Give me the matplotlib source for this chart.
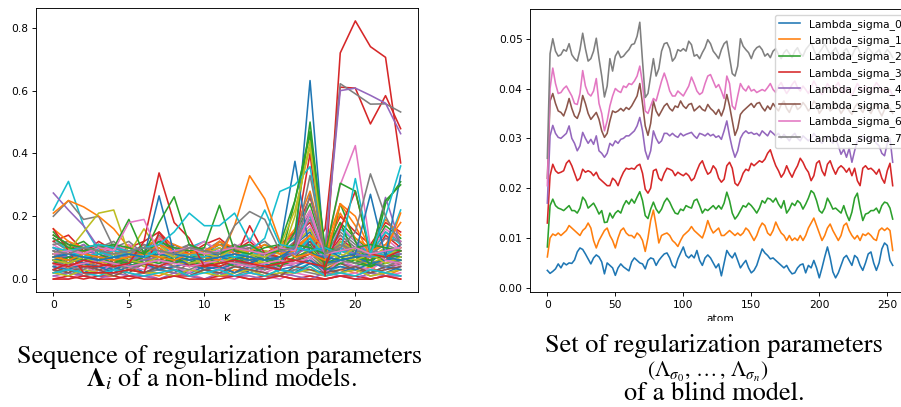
import matplotlib
matplotlib.use("Agg")
import matplotlib.pyplot as plt
from matplotlib.patches import Rectangle

plt.rcParams['mathtext.fontset'] = 'stix'

# ---------------- left panel data ----------------
K = list(range(24))

bg_lines = [
    [0.09,0.06,0.10,0.07,0.05,0.09,0.06,0.11,0.07,0.05,0.08,0.10,0.06,0.09,0.07,0.05,0.10,0.14,0.06,0.11,0.08,0.05,0.10,0.07],
    [0.02,0.04,0.01,0.03,0.02,0.04,0.02,0.01,0.03,0.02,0.04,0.01,0.03,0.02,0.01,0.03,0.02,0.04,0.01,0.03,0.02,0.04,0.01,0.03],
    [0.06,0.03,0.07,0.05,0.08,0.04,0.06,0.09,0.05,0.07,0.04,0.08,0.05,0.07,0.04,0.06,0.08,0.11,0.04,0.07,0.05,0.08,0.06,0.09],
    [0.14,0.11,0.08,0.12,0.09,0.07,0.10,0.13,0.08,0.11,0.07,0.12,0.09,0.10,0.07,0.11,0.14,0.18,0.07,0.13,0.09,0.06,0.14,0.10],
    [0.04,0.06,0.03,0.05,0.03,0.06,0.04,0.03,0.06,0.04,0.05,0.03,0.06,0.04,0.03,0.05,0.04,0.07,0.03,0.05,0.04,0.06,0.03,0.05],
    [0.08,0.05,0.09,0.06,0.08,0.05,0.07,0.10,0.06,0.08,0.05,0.09,0.07,0.05,0.08,0.06,0.09,0.13,0.05,0.10,0.07,0.09,0.06,0.08],
    [0.01,0.00,0.02,0.01,0.00,0.01,0.02,0.00,0.01,0.02,0.00,0.01,0.00,0.02,0.01,0.00,0.02,0.01,0.00,0.01,0.02,0.00,0.01,0.02],
    [0.12,0.09,0.11,0.08,0.10,0.12,0.08,0.14,0.09,0.11,0.08,0.12,0.09,0.11,0.08,0.10,0.13,0.21,0.08,0.15,0.11,0.08,0.15,0.12],
    [0.05,0.07,0.04,0.06,0.05,0.07,0.04,0.06,0.05,0.08,0.04,0.06,0.07,0.04,0.06,0.05,0.07,0.09,0.04,0.07,0.06,0.04,0.07,0.05],
    [0.03,0.01,0.04,0.02,0.03,0.05,0.02,0.03,0.04,0.02,0.03,0.01,0.04,0.03,0.05,0.02,0.03,0.05,0.02,0.04,0.03,0.02,0.04,0.03],
    [0.10,0.07,0.09,0.11,0.06,0.08,0.10,0.07,0.11,0.08,0.06,0.09,0.11,0.07,0.09,0.06,0.11,0.15,0.06,0.12,0.08,0.10,0.07,0.11],
    [0.05,0.03,0.06,0.04,0.06,0.03,0.05,0.07,0.04,0.05,0.06,0.03,0.05,0.06,0.04,0.05,0.06,0.09,0.03,0.06,0.07,0.04,0.06,0.05],
    [0.15,0.10,0.12,0.08,0.11,0.07,0.10,0.12,0.09,0.10,0.08,0.11,0.10,0.08,0.11,0.09,0.14,0.24,0.08,0.18,0.13,0.09,0.17,0.13],
    [0.00,0.01,0.00,0.01,0.01,0.00,0.01,0.00,0.01,0.01,0.00,0.01,0.01,0.00,0.01,0.01,0.00,0.01,0.00,0.01,0.01,0.00,0.01,0.00],
    [0.07,0.09,0.05,0.08,0.06,0.09,0.05,0.08,0.06,0.09,0.05,0.07,0.09,0.05,0.08,0.06,0.09,0.12,0.05,0.09,0.07,0.06,0.09,0.07],
    [0.04,0.02,0.05,0.03,0.04,0.02,0.05,0.03,0.02,0.05,0.03,0.04,0.02,0.05,0.03,0.04,0.05,0.06,0.02,0.05,0.03,0.02,0.04,0.05],
    [0.11,0.08,0.06,0.10,0.08,0.11,0.07,0.12,0.08,0.06,0.10,0.08,0.11,0.07,0.09,0.08,0.12,0.17,0.07,0.14,0.10,0.07,0.13,0.09],
    [0.02,0.03,0.01,0.02,0.04,0.01,0.02,0.03,0.02,0.01,0.03,0.02,0.01,0.03,0.02,0.01,0.03,0.02,0.01,0.02,0.03,0.01,0.02,0.01],
    [0.07,0.05,0.08,0.06,0.04,0.07,0.05,0.08,0.06,0.04,0.07,0.06,0.04,0.07,0.05,0.07,0.06,0.10,0.04,0.08,0.06,0.05,0.07,0.06],
    [0.13,0.09,0.07,0.11,0.08,0.06,0.09,0.12,0.07,0.10,0.12,0.08,0.10,0.09,0.07,0.10,0.13,0.20,0.07,0.16,0.12,0.08,0.15,0.11],
    [0.03,0.05,0.02,0.04,0.03,0.05,0.02,0.04,0.03,0.02,0.04,0.03,0.05,0.02,0.04,0.03,0.02,0.05,0.03,0.02,0.04,0.03,0.02,0.04],
    [0.08,0.06,0.09,0.05,0.07,0.09,0.06,0.10,0.07,0.09,0.06,0.05,0.08,0.06,0.09,0.07,0.10,0.14,0.06,0.11,0.08,0.06,0.10,0.08],
    [0.06,0.04,0.05,0.07,0.04,0.06,0.05,0.04,0.07,0.05,0.04,0.06,0.04,0.05,0.07,0.04,0.06,0.07,0.03,0.05,0.06,0.04,0.05,0.06],
    [0.12,0.14,0.09,0.11,0.08,0.10,0.12,0.15,0.10,0.08,0.11,0.13,0.09,0.12,0.08,0.11,0.15,0.26,0.10,0.20,0.15,0.11,0.18,0.15],
    [0.01,0.02,0.01,0.00,0.02,0.01,0.01,0.00,0.02,0.01,0.00,0.02,0.01,0.01,0.00,0.02,0.01,0.00,0.02,0.01,0.00,0.02,0.01,0.01],
    [0.09,0.06,0.08,0.10,0.05,0.07,0.09,0.06,0.08,0.10,0.07,0.09,0.06,0.05,0.08,0.10,0.07,0.12,0.05,0.10,0.07,0.09,0.06,0.10],
    [0.05,0.03,0.04,0.02,0.05,0.04,0.03,0.05,0.04,0.02,0.05,0.03,0.04,0.05,0.02,0.04,0.05,0.07,0.02,0.06,0.04,0.03,0.06,0.04],
    [0.11,0.12,0.08,0.10,0.12,0.07,0.09,0.13,0.10,0.07,0.09,0.12,0.08,0.10,0.12,0.08,0.12,0.19,0.09,0.14,0.10,0.08,0.13,0.12],
    [0.02,0.01,0.03,0.02,0.01,0.03,0.02,0.02,0.01,0.03,0.02,0.01,0.02,0.03,0.01,0.02,0.02,0.03,0.01,0.02,0.03,0.01,0.02,0.03],
    [0.07,0.08,0.06,0.09,0.07,0.06,0.08,0.09,0.06,0.08,0.09,0.06,0.08,0.07,0.09,0.06,0.09,0.13,0.06,0.09,0.10,0.07,0.09,0.08],
    [0.04,0.03,0.05,0.04,0.02,0.04,0.05,0.03,0.04,0.05,0.03,0.04,0.02,0.04,0.05,0.03,0.04,0.06,0.03,0.04,0.03,0.05,0.04,0.03],
    [0.16,0.12,0.10,0.09,0.11,0.08,0.10,0.13,0.11,0.09,0.08,0.12,0.10,0.09,0.08,0.10,0.16,0.28,0.09,0.21,0.13,0.10,0.19,0.14],
    [0.06,0.05,0.07,0.06,0.05,0.04,0.06,0.05,0.07,0.06,0.04,0.06,0.05,0.07,0.06,0.04,0.07,0.09,0.05,0.07,0.05,0.04,0.07,0.06],
    [0.00,0.00,0.01,0.00,0.00,0.01,0.00,0.00,0.01,0.00,0.00,0.00,0.01,0.00,0.00,0.01,0.00,0.00,0.00,0.01,0.00,0.00,0.01,0.00],
    [0.10,0.08,0.11,0.07,0.09,0.08,0.11,0.09,0.07,0.10,0.09,0.07,0.09,0.11,0.07,0.09,0.11,0.16,0.07,0.12,0.09,0.11,0.10,0.08],
    [0.03,0.02,0.04,0.03,0.01,0.03,0.02,0.04,0.03,0.01,0.03,0.02,0.04,0.03,0.02,0.01,0.04,0.03,0.02,0.03,0.04,0.02,0.03,0.04],
    [0.13,0.10,0.08,0.11,0.09,0.11,0.08,0.13,0.10,0.09,0.12,0.09,0.10,0.13,0.08,0.10,0.14,0.22,0.08,0.17,0.12,0.09,0.16,0.12],
    [0.06,0.04,0.03,0.06,0.05,0.03,0.05,0.06,0.04,0.03,0.05,0.04,0.06,0.04,0.03,0.05,0.06,0.08,0.04,0.06,0.05,0.06,0.04,0.06],
    [0.08,0.10,0.07,0.06,0.09,0.07,0.08,0.11,0.07,0.06,0.08,0.10,0.07,0.06,0.09,0.08,0.11,0.16,0.06,0.12,0.09,0.07,0.10,0.09],
    [0.02,0.03,0.02,0.01,0.03,0.02,0.01,0.02,0.03,0.01,0.02,0.03,0.01,0.02,0.01,0.03,0.02,0.04,0.01,0.02,0.01,0.03,0.02,0.01],
]

peak_lines = [
    [0.03,0.05,0.04,0.04,0.05,0.06,0.05,0.04,0.06,0.05,0.04,0.05,0.06,0.05,0.04,0.03,0.12,0.40,0.01,0.72,0.822,0.74,0.706,0.37],
    [0.16,0.09,0.02,0.02,0.02,0.03,0.02,0.15,0.08,0.04,0.05,0.04,0.06,0.17,0.08,0.07,0.06,0.08,0.16,0.611,0.608,0.494,0.584,0.479],
    [0.06,0.05,0.07,0.06,0.05,0.06,0.07,0.06,0.05,0.06,0.07,0.06,0.05,0.06,0.07,0.05,0.06,0.09,0.10,0.622,0.59,0.557,0.558,0.532],
    [0.08,0.07,0.06,0.07,0.08,0.07,0.06,0.07,0.08,0.07,0.06,0.07,0.08,0.07,0.06,0.07,0.08,0.10,0.09,0.60,0.608,0.585,0.56,0.463],
    [0.06,0.07,0.05,0.06,0.07,0.06,0.05,0.07,0.06,0.05,0.06,0.07,0.06,0.05,0.07,0.06,0.10,0.632,0.05,0.06,0.07,0.05,0.06,0.07],
    [0.07,0.06,0.08,0.07,0.05,0.07,0.08,0.07,0.06,0.08,0.07,0.05,0.07,0.08,0.06,0.07,0.15,0.50,0.08,0.18,0.07,0.06,0.08,0.07],
    [0.05,0.07,0.06,0.08,0.06,0.05,0.07,0.08,0.05,0.07,0.08,0.05,0.06,0.08,0.07,0.05,0.25,0.46,0.03,0.24,0.12,0.04,0.24,0.31],
    [0.06,0.05,0.07,0.05,0.08,0.06,0.05,0.07,0.08,0.05,0.06,0.05,0.07,0.08,0.05,0.06,0.20,0.44,0.08,0.10,0.06,0.08,0.05,0.07],
    [0.05,0.04,0.05,0.06,0.05,0.04,0.05,0.06,0.05,0.04,0.05,0.06,0.05,0.04,0.05,0.06,0.05,0.07,0.08,0.30,0.425,0.10,0.06,0.05],
    [0.07,0.08,0.07,0.06,0.07,0.08,0.07,0.08,0.07,0.06,0.07,0.08,0.07,0.06,0.07,0.10,0.375,0.08,0.07,0.06,0.07,0.08,0.07,0.06],
    [0.08,0.09,0.07,0.08,0.09,0.08,0.07,0.09,0.08,0.07,0.09,0.08,0.07,0.09,0.13,0.279,0.30,0.358,0.07,0.10,0.08,0.07,0.09,0.22],
    [0.07,0.06,0.08,0.07,0.06,0.07,0.08,0.07,0.06,0.08,0.07,0.06,0.17,0.329,0.255,0.12,0.07,0.08,0.06,0.24,0.17,0.07,0.08,0.21],
    [0.22,0.311,0.17,0.09,0.07,0.08,0.07,0.09,0.07,0.08,0.07,0.09,0.07,0.08,0.07,0.09,0.08,0.13,0.07,0.09,0.08,0.07,0.08,0.09],
    [0.274,0.22,0.17,0.10,0.11,0.08,0.10,0.09,0.07,0.10,0.08,0.07,0.10,0.08,0.07,0.09,0.08,0.21,0.07,0.10,0.08,0.07,0.26,0.11],
    [0.20,0.25,0.19,0.20,0.10,0.08,0.11,0.09,0.08,0.11,0.09,0.08,0.11,0.09,0.08,0.10,0.09,0.27,0.08,0.11,0.09,0.08,0.11,0.09],
    [0.21,0.25,0.23,0.20,0.16,0.10,0.08,0.11,0.09,0.08,0.09,0.11,0.08,0.09,0.11,0.08,0.09,0.14,0.10,0.24,0.20,0.09,0.11,0.18],
    [0.08,0.09,0.15,0.21,0.22,0.08,0.16,0.09,0.07,0.10,0.08,0.07,0.10,0.08,0.07,0.10,0.22,0.42,0.08,0.07,0.10,0.08,0.07,0.10],
    [0.05,0.04,0.06,0.05,0.04,0.05,0.12,0.338,0.18,0.13,0.04,0.05,0.06,0.05,0.04,0.05,0.06,0.05,0.04,0.16,0.28,0.08,0.07,0.09],
    [0.07,0.08,0.07,0.06,0.07,0.08,0.07,0.265,0.08,0.07,0.06,0.07,0.08,0.07,0.06,0.07,0.10,0.09,0.10,0.07,0.08,0.27,0.07,0.33],
    [0.13,0.10,0.09,0.10,0.11,0.10,0.08,0.18,0.262,0.11,0.09,0.08,0.10,0.11,0.08,0.09,0.11,0.10,0.08,0.305,0.28,0.08,0.25,0.30],
    [0.14,0.11,0.10,0.11,0.10,0.19,0.08,0.12,0.10,0.09,0.10,0.235,0.09,0.08,0.10,0.11,0.25,0.47,0.10,0.09,0.10,0.11,0.10,0.09],
    [0.10,0.09,0.10,0.11,0.10,0.09,0.10,0.11,0.15,0.21,0.17,0.17,0.21,0.12,0.22,0.11,0.10,0.09,0.10,0.08,0.32,0.08,0.20,0.36],
    [0.08,0.09,0.08,0.10,0.09,0.18,0.19,0.08,0.09,0.10,0.08,0.09,0.10,0.09,0.08,0.10,0.09,0.21,0.08,0.09,0.10,0.08,0.09,0.10],
    [0.09,0.08,0.10,0.09,0.08,0.09,0.10,0.09,0.08,0.10,0.09,0.08,0.17,0.215,0.19,0.09,0.10,0.33,0.08,0.10,0.15,0.335,0.20,0.11],
]
peak_colors = ['C3','C3','C7','C4','C0','C2','C2','C8','C6','C0','C9','C1',
               'C9','C4','C7','C1','C8','C3','C0','C2','C2','C9','C6','C7']

# ---------------- right panel data ----------------
atom = list(range(0, 256, 2))
sigma_labels = ['Lambda_sigma_0', 'Lambda_sigma_1', 'Lambda_sigma_2', 'Lambda_sigma_3',
                'Lambda_sigma_4', 'Lambda_sigma_5', 'Lambda_sigma_6', 'Lambda_sigma_7']

lambda_sigma_0 = [
    0.0035,0.0029,0.0033,0.0038,0.0048,0.0040,0.0050,0.0046,0.0050,0.0049,0.0056,0.0072,0.0080,0.0077,0.0068,0.0058,
    0.0048,0.0060,0.0066,0.0062,0.0052,0.0028,0.0050,0.0045,0.0040,0.0025,0.0040,0.0048,0.0042,0.0038,0.0034,0.0052,
    0.0060,0.0055,0.0050,0.0048,0.0038,0.0055,0.0060,0.0058,0.0045,0.0055,0.0062,0.0068,0.0070,0.0060,0.0045,0.0040,
    0.0058,0.0070,0.0082,0.0065,0.0060,0.0066,0.0060,0.0075,0.0055,0.0045,0.0060,0.0066,0.0060,0.0050,0.0040,0.0048,
    0.0024,0.0050,0.0075,0.0066,0.0060,0.0070,0.0055,0.0040,0.0048,0.0055,0.0040,0.0030,0.0035,0.0045,0.0062,0.0078,
    0.0070,0.0065,0.0058,0.0060,0.0055,0.0050,0.0045,0.0040,0.0045,0.0035,0.0028,0.0030,0.0040,0.0046,0.0048,0.0030,
    0.0045,0.0040,0.0055,0.0040,0.0020,0.0040,0.0062,0.0082,0.0060,0.0032,0.0020,0.0030,0.0045,0.0060,0.0065,0.0055,
    0.0045,0.0065,0.0060,0.0045,0.0035,0.0050,0.0068,0.0072,0.0050,0.0035,0.0050,0.0078,0.0090,0.0085,0.0055,0.0045]
lambda_sigma_1 = [
    0.0062,0.0100,0.0108,0.0105,0.0110,0.0105,0.0110,0.0115,0.0125,0.0120,0.0115,0.0110,0.0105,0.0115,0.0120,0.0130,
    0.0120,0.0095,0.0080,0.0095,0.0105,0.0115,0.0120,0.0105,0.0095,0.0080,0.0100,0.0115,0.0120,0.0110,0.0105,0.0105,
    0.0100,0.0110,0.0105,0.0095,0.0073,0.0100,0.0135,0.0156,0.0125,0.0090,0.0105,0.0108,0.0110,0.0105,0.0095,0.0090,
    0.0083,0.0095,0.0105,0.0110,0.0115,0.0123,0.0115,0.0110,0.0105,0.0100,0.0115,0.0135,0.0120,0.0110,0.0115,0.0120,
    0.0105,0.0105,0.0110,0.0115,0.0110,0.0105,0.0110,0.0105,0.0110,0.0120,0.0115,0.0105,0.0095,0.0105,0.0120,0.0130,
    0.0125,0.0110,0.0105,0.0115,0.0132,0.0120,0.0110,0.0105,0.0095,0.0105,0.0095,0.0100,0.0095,0.0105,0.0095,0.0105,
    0.0120,0.0130,0.0140,0.0125,0.0110,0.0095,0.0105,0.0120,0.0128,0.0115,0.0105,0.0095,0.0105,0.0125,0.0130,0.0115,
    0.0105,0.0098,0.0105,0.0095,0.0108,0.0105,0.0110,0.0105,0.0098,0.0095,0.0115,0.0120,0.0115,0.0120,0.0115,0.0075]
lambda_sigma_2 = [
    0.0082,0.0165,0.0178,0.0165,0.0160,0.0158,0.0155,0.0160,0.0165,0.0155,0.0155,0.0150,0.0160,0.0182,0.0175,0.0160,
    0.0165,0.0170,0.0160,0.0148,0.0155,0.0131,0.0132,0.0150,0.0140,0.0150,0.0155,0.0150,0.0165,0.0175,0.0168,0.0178,
    0.0170,0.0182,0.0193,0.0175,0.0145,0.0139,0.0158,0.0172,0.0158,0.0150,0.0158,0.0172,0.0180,0.0172,0.0160,0.0150,
    0.0148,0.0158,0.0155,0.0165,0.0162,0.0160,0.0175,0.0178,0.0165,0.0150,0.0158,0.0155,0.0160,0.0165,0.0158,0.0165,
    0.0158,0.0170,0.0192,0.0175,0.0150,0.0138,0.0145,0.0155,0.0165,0.0162,0.0170,0.0165,0.0158,0.0150,0.0160,0.0175,
    0.0170,0.0180,0.0178,0.0172,0.0180,0.0168,0.0160,0.0175,0.0150,0.0158,0.0170,0.0165,0.0175,0.0170,0.0158,0.0168,
    0.0180,0.0195,0.0190,0.0175,0.0155,0.0150,0.0160,0.0180,0.0170,0.0158,0.0160,0.0155,0.0150,0.0165,0.0148,0.0135,
    0.0152,0.0180,0.0190,0.0160,0.0135,0.0148,0.0150,0.0155,0.0155,0.0160,0.0150,0.0165,0.0172,0.0170,0.0160,0.0138]
lambda_sigma_3 = [
    0.0130,0.0225,0.0248,0.0235,0.0230,0.0232,0.0235,0.0250,0.0256,0.0245,0.0230,0.0215,0.0220,0.0238,0.0232,0.0235,
    0.0232,0.0225,0.0232,0.0220,0.0215,0.0210,0.0205,0.0205,0.0220,0.0215,0.0205,0.0220,0.0232,0.0240,0.0238,0.0240,
    0.0238,0.0245,0.0248,0.0230,0.0198,0.0190,0.0200,0.0235,0.0238,0.0220,0.0215,0.0230,0.0240,0.0238,0.0235,0.0225,
    0.0232,0.0228,0.0225,0.0230,0.0225,0.0215,0.0220,0.0235,0.0248,0.0255,0.0240,0.0228,0.0232,0.0245,0.0238,0.0220,
    0.0212,0.0218,0.0245,0.0252,0.0240,0.0210,0.0205,0.0215,0.0230,0.0238,0.0235,0.0250,0.0245,0.0250,0.0255,0.0252,
    0.0258,0.0270,0.0277,0.0260,0.0245,0.0235,0.0222,0.0230,0.0245,0.0232,0.0222,0.0235,0.0245,0.0260,0.0252,0.0240,
    0.0232,0.0215,0.0225,0.0250,0.0255,0.0235,0.0225,0.0248,0.0255,0.0240,0.0228,0.0240,0.0245,0.0240,0.0232,0.0240,
    0.0225,0.0240,0.0215,0.0205,0.0240,0.0245,0.0238,0.0240,0.0235,0.0228,0.0238,0.0220,0.0210,0.0235,0.0250,0.0205]
lambda_sigma_4 = [
    0.0170,0.0305,0.0326,0.0310,0.0302,0.0300,0.0305,0.0310,0.0325,0.0300,0.0290,0.0275,0.0285,0.0312,0.0300,0.0290,
    0.0298,0.0288,0.0305,0.0275,0.0270,0.0262,0.0270,0.0290,0.0285,0.0295,0.0290,0.0298,0.0300,0.0305,0.0305,0.0310,
    0.0315,0.0325,0.0342,0.0315,0.0275,0.0258,0.0275,0.0315,0.0300,0.0290,0.0295,0.0310,0.0310,0.0305,0.0310,0.0305,
    0.0302,0.0310,0.0305,0.0308,0.0310,0.0312,0.0305,0.0300,0.0310,0.0308,0.0305,0.0310,0.0305,0.0308,0.0302,0.0305,
    0.0298,0.0315,0.0335,0.0305,0.0280,0.0262,0.0275,0.0300,0.0310,0.0315,0.0310,0.0312,0.0308,0.0310,0.0305,0.0315,
    0.0310,0.0305,0.0315,0.0310,0.0305,0.0310,0.0300,0.0308,0.0302,0.0295,0.0305,0.0310,0.0300,0.0295,0.0305,0.0300,
    0.0295,0.0300,0.0310,0.0302,0.0295,0.0290,0.0300,0.0305,0.0298,0.0290,0.0300,0.0285,0.0268,0.0278,0.0262,0.0280,
    0.0252,0.0275,0.0295,0.0300,0.0305,0.0298,0.0302,0.0295,0.0300,0.0290,0.0285,0.0270,0.0265,0.0290,0.0300,0.0252]
lambda_sigma_5 = [
    0.0220,0.0375,0.0390,0.0370,0.0355,0.0352,0.0345,0.0360,0.0380,0.0360,0.0345,0.0340,0.0355,0.0386,0.0370,0.0350,
    0.0338,0.0345,0.0352,0.0338,0.0315,0.0302,0.0310,0.0335,0.0355,0.0352,0.0355,0.0360,0.0355,0.0362,0.0358,0.0365,
    0.0375,0.0385,0.0410,0.0370,0.0325,0.0306,0.0330,0.0375,0.0355,0.0345,0.0355,0.0365,0.0370,0.0360,0.0355,0.0365,
    0.0362,0.0375,0.0365,0.0360,0.0368,0.0370,0.0355,0.0360,0.0365,0.0358,0.0355,0.0368,0.0360,0.0355,0.0348,0.0358,
    0.0345,0.0360,0.0388,0.0365,0.0335,0.0306,0.0320,0.0348,0.0355,0.0360,0.0365,0.0370,0.0362,0.0370,0.0372,0.0362,
    0.0355,0.0365,0.0358,0.0370,0.0362,0.0355,0.0368,0.0375,0.0360,0.0352,0.0365,0.0370,0.0358,0.0362,0.0372,0.0365,
    0.0355,0.0362,0.0375,0.0368,0.0350,0.0358,0.0370,0.0365,0.0355,0.0360,0.0372,0.0362,0.0350,0.0358,0.0365,0.0355,
    0.0348,0.0362,0.0370,0.0360,0.0352,0.0365,0.0358,0.0350,0.0362,0.0368,0.0355,0.0345,0.0358,0.0365,0.0360,0.0350]
lambda_sigma_6 = [
    0.0205,0.0400,0.0441,0.0410,0.0390,0.0392,0.0400,0.0405,0.0395,0.0385,0.0370,0.0368,0.0390,0.0436,0.0405,0.0390,
    0.0385,0.0395,0.0420,0.0370,0.0350,0.0315,0.0335,0.0365,0.0385,0.0400,0.0395,0.0392,0.0405,0.0402,0.0410,0.0408,
    0.0415,0.0425,0.0445,0.0410,0.0355,0.0350,0.0365,0.0380,0.0375,0.0395,0.0415,0.0431,0.0415,0.0395,0.0385,0.0385,
    0.0395,0.0390,0.0385,0.0395,0.0405,0.0423,0.0410,0.0395,0.0388,0.0392,0.0410,0.0425,0.0428,0.0415,0.0402,0.0408,
    0.0395,0.0380,0.0425,0.0410,0.0365,0.0358,0.0385,0.0410,0.0400,0.0395,0.0405,0.0395,0.0398,0.0392,0.0395,0.0398,
    0.0395,0.0402,0.0410,0.0398,0.0392,0.0405,0.0412,0.0400,0.0390,0.0398,0.0408,0.0415,0.0402,0.0395,0.0405,0.0398,
    0.0390,0.0402,0.0415,0.0405,0.0395,0.0388,0.0398,0.0410,0.0402,0.0392,0.0405,0.0412,0.0398,0.0390,0.0402,0.0395,
    0.0385,0.0398,0.0410,0.0402,0.0395,0.0405,0.0398,0.0390,0.0402,0.0412,0.0405,0.0395,0.0400,0.0392,0.0398,0.0385]
lambda_sigma_7 = [
    0.0260,0.0470,0.0500,0.0475,0.0465,0.0468,0.0478,0.0475,0.0490,0.0468,0.0460,0.0455,0.0478,0.0511,0.0480,0.0455,
    0.0460,0.0475,0.0501,0.0460,0.0425,0.0383,0.0405,0.0460,0.0435,0.0465,0.0475,0.0462,0.0465,0.0472,0.0478,0.0488,
    0.0490,0.0505,0.0533,0.0455,0.0382,0.0390,0.0425,0.0460,0.0425,0.0440,0.0475,0.0490,0.0492,0.0480,0.0455,0.0462,
    0.0478,0.0475,0.0480,0.0475,0.0495,0.0488,0.0465,0.0468,0.0460,0.0472,0.0482,0.0498,0.0490,0.0475,0.0468,0.0460,
    0.0478,0.0490,0.0495,0.0462,0.0430,0.0425,0.0445,0.0500,0.0485,0.0478,0.0472,0.0460,0.0475,0.0482,0.0485,0.0478,
    0.0465,0.0470,0.0462,0.0475,0.0480,0.0468,0.0460,0.0472,0.0478,0.0470,0.0462,0.0475,0.0482,0.0470,0.0465,0.0478,
    0.0485,0.0492,0.0478,0.0465,0.0472,0.0480,0.0490,0.0478,0.0468,0.0475,0.0482,0.0470,0.0462,0.0475,0.0480,0.0470,
    0.0465,0.0478,0.0485,0.0472,0.0460,0.0470,0.0482,0.0475,0.0468,0.0472,0.0478,0.0465,0.0470,0.0478,0.0472,0.0462]

sigma_series = [lambda_sigma_0, lambda_sigma_1, lambda_sigma_2, lambda_sigma_3,
                lambda_sigma_4, lambda_sigma_5, lambda_sigma_6, lambda_sigma_7]

# ---------------- figure ----------------
FS = 7.7
LW = 1.15
plt.rcParams.update({
    'font.size': FS,
    'axes.linewidth': 0.65,
    'xtick.major.width': 0.65, 'ytick.major.width': 0.65,
    'xtick.major.size': 2.7, 'ytick.major.size': 2.7,
    'xtick.major.pad': 2.7, 'ytick.major.pad': 2.7,
    'xtick.labelsize': FS, 'ytick.labelsize': FS,
    'axes.labelpad': 3.0,
})

fig = plt.figure(figsize=(9.01, 4.07), dpi=100)

ax1 = fig.add_axes([36/901, 1-292/407, (418-36)/901, (292-8)/407])
for vals in bg_lines:
    ax1.plot(K, vals, lw=LW)
for vals, c in zip(peak_lines, peak_colors):
    ax1.plot(K, vals, lw=LW, color=c)
ax1.set_xticks([0, 5, 10, 15, 20])
ax1.set_yticks([0.0, 0.2, 0.4, 0.6, 0.8])
ax1.set_xlabel('K', fontsize=FS)

ax2 = fig.add_axes([530/901, 1-292.3/407, (911.4-530)/901, (292.3-9.3)/407])
for vals, lab in zip(sigma_series, sigma_labels):
    ax2.plot(atom, vals, lw=LW, label=lab)
ax2.set_xlim(-12.75, 267.75)
ax2.set_ylim(-0.0009, 0.0559)
ax2.set_xticks([0, 50, 100, 150, 200, 250])
ax2.set_yticks([0.0, 0.01, 0.02, 0.03, 0.04, 0.05])
ax2.set_yticklabels(['0.00', '0.01', '0.02', '0.03', '0.04', '0.05'])
ax2.set_xlabel('atom', fontsize=FS)
ax2.legend(loc='upper right', fontsize=FS)

# white band hiding the lower part of the axis labels (cropped figure look)
fig.patches.append(Rectangle((0, 0), 1, 1-321/407, transform=fig.transFigure,
                             facecolor='white', edgecolor='none', zorder=5))

cap = dict(family='STIXGeneral', fontsize=19, ha='center', va='baseline', zorder=6)
fig.text(220/901, 1-362.7/407, 'Sequence of regularization parameters', **cap)
fig.text(221/901, 1-386.7/407, r'$\mathbf{\Lambda}_i$ of a non-blind models.', **cap)
fig.text(714/901, 1-352.3/407, 'Set of regularization parameters', **cap)
cap2 = dict(cap); cap2['fontsize'] = 15.5
fig.text(708/901, 1-376.5/407, r'$(\Lambda_{\sigma_0},\,\ldots\,,\,\Lambda_{\sigma_n})$', **cap2)
fig.text(714/901, 1-400.5/407, 'of a blind model.', **cap)

fig.savefig('out.png', dpi=100)
